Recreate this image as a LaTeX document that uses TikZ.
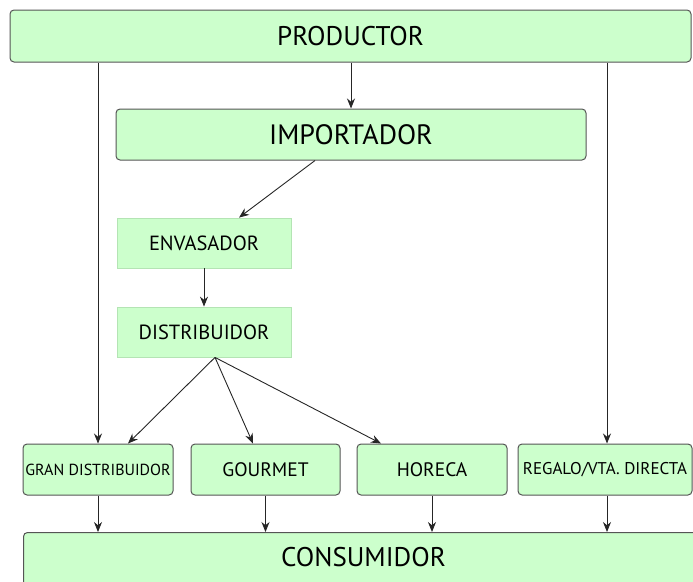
\documentclass[tikz,border=0pt]{standalone}
\usepackage{fontspec}
\setmainfont{PT Sans}
\usetikzlibrary{arrows.meta}
\definecolor{boxfill}{HTML}{CCFFCC}
\definecolor{boxline}{HTML}{555555}
\definecolor{softline}{HTML}{B4E4B4}
\tikzset{
  rbox/.style={draw=boxline, line width=1pt, fill=boxfill, rounded corners=4pt,
    inner sep=0pt, align=center},
  sbox/.style={draw=softline, line width=0.8pt, fill=boxfill, inner sep=0pt, align=center},
  arr/.style={draw=black!85, line width=0.9pt, -{Stealth[length=10pt,width=8pt]}},
  big/.style={font=\fontsize{27}{29}\selectfont},
  mid/.style={font=\fontsize{20.5}{22}\selectfont},
  small/.style={font=\fontsize{19.5}{21}\selectfont},
}
\begin{document}
\begin{tikzpicture}[x=1pt,y=-1pt]
\useasboundingbox (0,0) rectangle (693,581);
\clip (0,0) rectangle (693,581);

\node[rbox, big, minimum width=681pt, minimum height=52pt] (prod) at (350.5,36) {PRODUCTOR};
\node[rbox, minimum width=470pt, minimum height=51pt] (imp) at (351,134.5)
  {\fontsize{28}{30}\selectfont IMPORTADOR};
\node[sbox, mid, minimum width=174pt, minimum height=50pt] (env) at (204,243) {ENVASADOR};
\node[sbox, mid, minimum width=174pt, minimum height=50pt] (dist) at (204,332) {DISTRIBUIDOR};

\node[rbox, minimum width=150pt, minimum height=51pt] (gran) at (98,469.5)
  {\fontsize{16}{18}\selectfont GRAN DISTRIBUIDOR};
\node[rbox, small, minimum width=149pt, minimum height=51pt] (gour) at (265.5,469.5) {GOURMET};
\node[rbox, small, minimum width=150pt, minimum height=51pt] (hore) at (432,469.5) {HORECA};
\node[rbox, minimum width=174pt, minimum height=51pt] (rega) at (605,469.5)
  {\fontsize{17}{19}\selectfont REGALO/VTA. DIRECTA};

\node[rbox, minimum width=690pt, minimum height=70pt, anchor=north west] (cons) at (23,532) {};
\node[big] (constext) at (363.5,557) {CONSUMIDOR};

% flows from the producer
\draw[arr] (prod.south -| imp.north) -- (imp.north);
\draw[arr] (prod.south -| gran.north) -- (gran.north);
\draw[arr] ([xshift=2pt]prod.south -| rega.north) -- ([xshift=2pt]rega.north);

% importer to packer to distributor
\draw[arr] ([xshift=-36pt]imp.south) -- ([xshift=35pt]env.north);
\draw[arr] (env) -- (dist);

% distributor to channels
\coordinate (dsplit) at ([xshift=11pt]dist.south);
\draw[arr] (dsplit) -- ([xshift=30pt]gran.north);
\draw[arr] (dsplit) -- ([xshift=-12.5pt]gour.north);
\draw[arr] (dsplit) -- ([xshift=-51pt]hore.north);

% channels to consumer
\draw[arr] (gran.south) -- (gran.south |- cons.north);
\draw[arr] (gour.south) -- (gour.south |- cons.north);
\draw[arr] (hore.south) -- (hore.south |- cons.north);
\draw[arr] ([xshift=2pt]rega.south) -- ([xshift=2pt]rega.south |- cons.north);
\end{tikzpicture}
\end{document}
